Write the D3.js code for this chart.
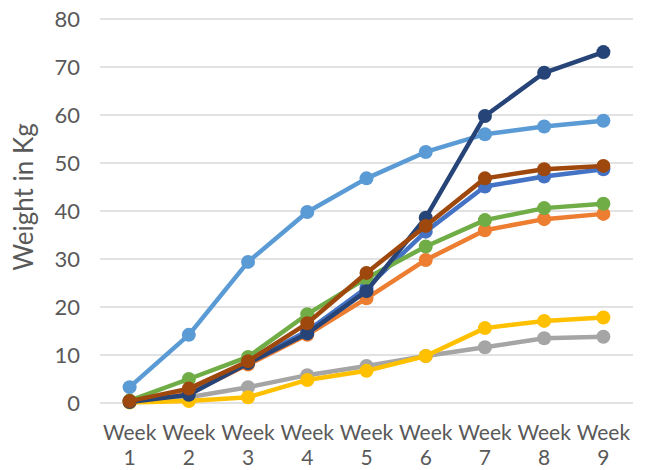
<!DOCTYPE html>
<html>
<head>
<meta charset="utf-8">
<script src="https://cdn.jsdelivr.net/npm/d3@7"></script>
<style>
  html, body { margin: 0; padding: 0; background: #ffffff; }
  svg { display: block; }
</style>
</head>
<body>
<svg id="chart" width="651" height="470"></svg>
<script>
const categories = ["Week 1", "Week 2", "Week 3", "Week 4", "Week 5", "Week 6", "Week 7", "Week 8", "Week 9"];
const yTicks = [0, 10, 20, 30, 40, 50, 60, 70, 80];
const seriesNames = ["S1", "S2", "S3", "S4", "S5", "S6", "S7", "S8"];
const seriesColors = ["#4472C4", "#ED7D31", "#A5A5A5", "#FFC000", "#5B9BD5", "#70AD47", "#264478", "#9E480E"];
const s1 = [0.4, 2.2, 8.5, 15.0, 24.0, 35.7, 45.1, 47.2, 48.7];
const s2 = [0.2, 2.0, 8.0, 14.2, 21.8, 29.8, 36.0, 38.3, 39.4];
const s3 = [0.3, 1.2, 3.3, 5.8, 7.7, 9.8, 11.6, 13.5, 13.8];
const s4 = [0.1, 0.4, 1.2, 4.8, 6.7, 9.8, 15.6, 17.1, 17.8];
const s5 = [3.3, 14.2, 29.4, 39.8, 46.8, 52.3, 56.0, 57.6, 58.8];
const s6 = [0.5, 5.0, 9.6, 18.5, 26.0, 32.6, 38.1, 40.6, 41.5];
const s7 = [0.2, 1.7, 8.3, 14.5, 23.3, 38.6, 59.8, 68.8, 73.1];
const s8 = [0.4, 3.0, 8.7, 16.6, 27.1, 36.9, 46.8, 48.7, 49.4];
const yTitle = "Weight in Kg";

const seriesValues = [s1, s2, s3, s4, s5, s6, s7, s8];
const series = seriesNames.map((n, i) => ({ name: n, color: seriesColors[i], values: seriesValues[i] }));

const svg = d3.select("#chart");
const font = "Lato, 'Open Sans', sans-serif";
const textColor = "#595959";

const plotLeft = 100, plotRight = 633, plotTop = 19, plotBottom = 403;
const x = d3.scaleBand().domain(categories).range([plotLeft, plotRight]);
const y = d3.scaleLinear().domain([0, 80]).range([plotBottom, plotTop]);

// gridlines
svg.append("g").selectAll("line").data(yTicks).join("line")
  .attr("x1", plotLeft).attr("x2", plotRight)
  .attr("y1", d => y(d)).attr("y2", d => y(d))
  .attr("stroke", "#D9D9D9").attr("stroke-width", 1.5);

// y axis labels
const yAxis = d3.axisLeft(y).tickValues(yTicks).tickSize(0).tickPadding(0);
const yg = svg.append("g").attr("transform", `translate(${plotLeft - 20},0)`).call(yAxis);
yg.select(".domain").remove();
yg.selectAll("text").attr("font-family", font).attr("font-size", 22).attr("fill", textColor)
  .attr("dy", "0.36em");

// x axis labels (two lines)
const xAxis = d3.axisBottom(x).tickSize(0).tickPadding(0).tickFormat(() => "");
const xg = svg.append("g").attr("transform", `translate(0,${plotBottom})`).call(xAxis);
xg.select(".domain").remove();
xg.selectAll(".tick").each(function(d) {
  const parts = d.split(" ");
  const t = d3.select(this).append("text")
    .attr("font-family", font).attr("font-size", 21).attr("fill", textColor)
    .attr("text-anchor", "middle");
  t.append("tspan").attr("x", 0).attr("y", 36.5).text(parts[0]);
  t.append("tspan").attr("x", 0).attr("y", 62).text(parts[1]);
});

// y title
svg.append("text")
  .attr("transform", `translate(33,197) rotate(-90)`)
  .attr("text-anchor", "middle")
  .attr("font-family", font).attr("font-size", 26).attr("fill", textColor)
  .text(yTitle);

const cx = d => x(d) + x.bandwidth() / 2;
const line = d3.line().x((v, i) => cx(categories[i])).y(v => y(v));

series.forEach(s => {
  const g = svg.append("g");
  g.append("path").datum(s.values)
    .attr("d", line).attr("fill", "none")
    .attr("stroke", s.color).attr("stroke-width", 4.5)
    .attr("stroke-linejoin", "round").attr("stroke-linecap", "round");
  g.selectAll("circle").data(s.values).join("circle")
    .attr("cx", (v, i) => cx(categories[i])).attr("cy", v => y(v))
    .attr("r", 7).attr("fill", s.color);
});
</script>
</body>
</html>
